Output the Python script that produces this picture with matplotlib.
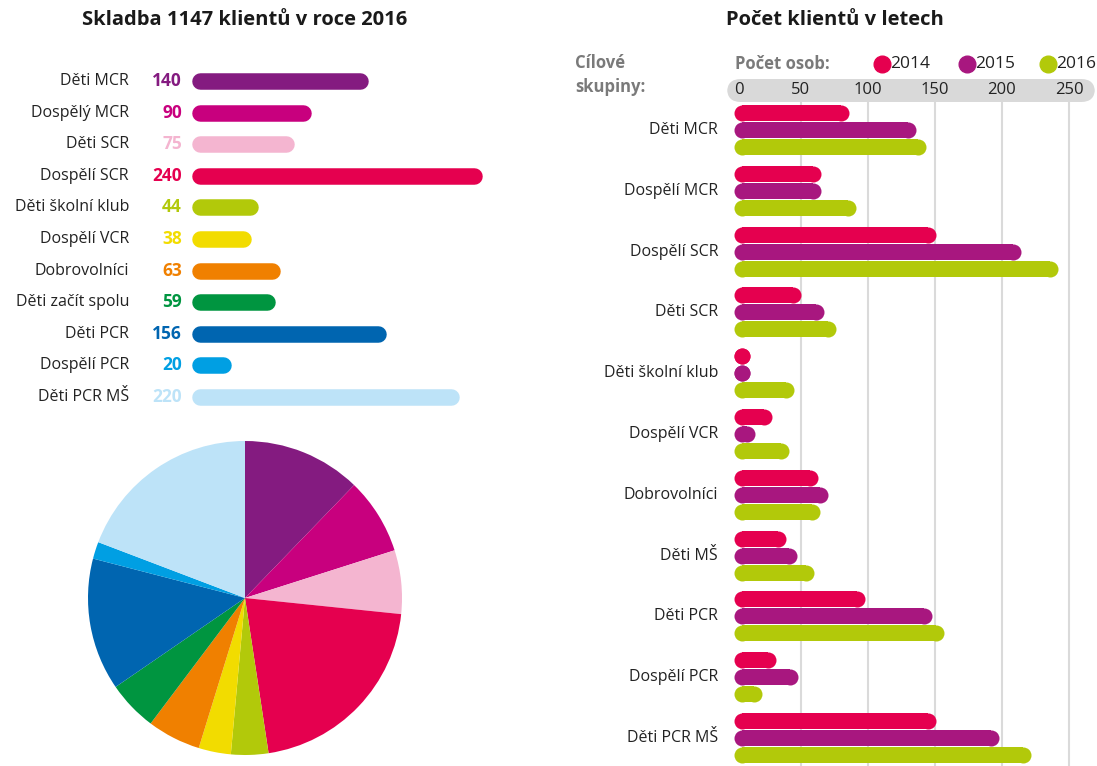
import matplotlib.pyplot as plt
from matplotlib.patches import FancyBboxPatch
from matplotlib.lines import Line2D

plt.rcParams['font.family'] = ['Open Sans', 'DejaVu Sans']

# --- data ---
groups16 = ["Děti MCR", "Dospělý MCR", "Děti SCR", "Dospělí SCR", "Děti školní klub",
            "Dospělí VCR", "Dobrovolníci", "Děti začít spolu", "Děti PCR", "Dospělí PCR",
            "Děti PCR MŠ"]
values16 = [140, 90, 75, 240, 44, 38, 63, 59, 156, 20, 220]
colors16 = ["#841B80", "#C8007E", "#F4B5D0", "#E5004F", "#B2C90A", "#F2DC00",
            "#F08000", "#009540", "#0065B0", "#009FE3", "#BDE3F8"]

groups = ["Děti MCR", "Dospělí MCR", "Dospělí SCR", "Děti SCR", "Děti školní klub",
          "Dospělí VCR", "Dobrovolníci", "Děti MŠ", "Děti PCR", "Dospělí PCR", "Děti PCR MŠ"]
years = ["2014", "2015", "2016"]
v2014 = [86, 65, 151, 50, 12, 28, 63, 39, 98, 31, 151]
v2015 = [136, 65, 214, 67, 12, 16, 70, 47, 148, 48, 198]
v2016 = [143, 91, 242, 76, 45, 41, 64, 60, 157, 21, 222]
year_colors = ["#E5004F", "#A8177F", "#B2C90A"]
ticks = [0, 50, 100, 150, 200, 250]

W, H = 1097, 766
fig = plt.figure(figsize=(W / 100, H / 100), dpi=100)


def px_axes(x0, y0, x1, y1):
    # pixel box (top-left origin) -> axes
    return fig.add_axes([x0 / W, 1 - y1 / H, (x1 - x0) / W, (y1 - y0) / H])


def rbar(ax, y, v, color, h_px, k):
    # rounded bar spanning 0..v in data units (k = px per unit)
    r = h_px / 2 / k
    x1 = max(v - r, r)
    ax.plot([r, x1], [y, y], color=color, lw=h_px * 0.72, solid_capstyle='butt',
            marker='o', markersize=h_px * 0.72, markeredgewidth=0, clip_on=False)


# --- left: bars 2016 ---
k_left = 1.14
row_top, row_step = 81, 31.6
n = len(groups16)
top = row_top - row_step / 2
bot = row_top + row_step * (n - 1) + row_step / 2
axl = px_axes(200, top, 520, bot)
axl.set_xlim(0, 320 / k_left)
axl.set_ylim(n - 0.5, -0.5)
axl.axis('off')
for i, (g, v, c) in enumerate(zip(groups16, values16, colors16)):
    axl.plot([0, v], [i, i], color=c, lw=16.5 * 0.72, solid_capstyle='round', clip_on=False)
    axl.text(-71 / k_left, i, g, ha='right', va='center', fontsize=11.5, color='#222222')
    axl.text(-18 / k_left, i, str(v), ha='right', va='center', fontsize=12.5,
             fontweight='bold', color=c)

fig.text(245 / W, 1 - 20 / H, "Skladba 1147 klientů v roce 2016", ha='center', va='center',
         fontsize=14.5, fontweight='bold', color='#1a1a1a')

# --- pie ---
axp = px_axes(88, 441, 402, 755)
axp.pie(values16, colors=colors16, startangle=90, counterclock=False,
        wedgeprops=dict(linewidth=0))
axp.set_xlim(-1, 1)
axp.set_ylim(-1, 1)
axp.set_aspect('equal')

# --- right: grouped bars ---
k_r = 1.34
g_top, g_step = 130, 60.8
axr = px_axes(734, 102, 1095, 766)
axr.set_xlim(0, 361 / k_r)
axr.set_ylim((766 - g_top) / g_step, (102 - g_top) / g_step)
axr.axis('off')
for t in ticks[1:]:
    axr.axvline(t, color='#DADADA', lw=1.5, zorder=0)
off = 17 / g_step
for i, g in enumerate(groups):
    for j, (vals, c) in enumerate(zip([v2014, v2015, v2016], year_colors)):
        rbar(axr, i + (j - 1) * off, vals[i], c, 16, k_r)
    axr.text(-16 / k_r, i, g, ha='right', va='center', fontsize=11.5, color='#222222',
             clip_on=False)

fig.text(835 / W, 1 - 20 / H, "Počet klientů v letech", ha='center', va='center',
         fontsize=14.5, fontweight='bold', color='#1a1a1a')

# axis band
band = FancyBboxPatch((727 / W, 1 - 102 / H), (1095 - 727) / W, 23 / H,
                      boxstyle="round,pad=0,rounding_size=0.0125",
                      mutation_aspect=W / H, transform=fig.transFigure,
                      facecolor='#D9D9D9', edgecolor='none')
fig.add_artist(band)
for t in ticks:
    xp = 734 + t * k_r + (5 if t == 0 else 0)
    fig.text(xp / W, 1 - 90 / H, str(t), ha='center', va='center', fontsize=12,
             color='#222222')

# legend / headers
fig.text(735 / W, 1 - 64 / H, "Počet osob:", ha='left', va='center', fontsize=12,
         fontweight='bold', color='#7a7a7a')
fig.text(575 / W, 1 - 63 / H, "Cílové", ha='left', va='center', fontsize=12,
         fontweight='bold', color='#7a7a7a')
fig.text(575 / W, 1 - 87 / H, "skupiny:", ha='left', va='center', fontsize=12,
         fontweight='bold', color='#7a7a7a')
for xp, y, c in zip([882, 967, 1048], years, year_colors):
    fig.add_artist(Line2D([xp / W], [1 - 64 / H], marker='o', markersize=12,
                          color=c, transform=fig.transFigure))
    fig.text((xp + 8) / W, 1 - 64 / H, y, ha='left', va='center', fontsize=12.5,
             color='#222222')

fig.savefig("out.png", dpi=100)
